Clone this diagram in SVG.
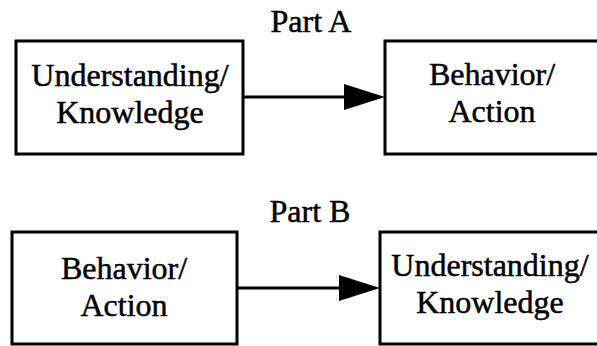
<svg xmlns="http://www.w3.org/2000/svg" width="597" height="346" viewBox="0 0 597 346">
  <style>
    .box { fill: #ffffff; stroke: #000000; stroke-width: 3; }
    .lbl { font-family: "Liberation Serif", "Times New Roman", serif; font-size: 32px; fill: #000000; stroke: #000000; stroke-width: 0.5; text-anchor: middle; }
    .edge { stroke: #000000; stroke-width: 3; fill: none; }
    .head { fill: #000000; stroke: none; }
  </style>
  <rect width="597" height="346" fill="#ffffff"/>

  <!-- section titles -->
  <text class="lbl" x="311" y="32">Part A</text>
  <text class="lbl" x="310" y="222">Part B</text>

  <!-- Part A -->
  <g id="a-understanding">
    <rect class="box" x="16" y="41" width="227" height="113"/>
    <text class="lbl" x="130" y="86">Understanding/</text>
    <text class="lbl" x="130" y="123">Knowledge</text>
  </g>
  <g id="a-behavior">
    <rect class="box" x="385" y="41" width="230" height="113"/>
    <text class="lbl" x="492" y="85">Behavior/</text>
    <text class="lbl" x="492" y="122">Action</text>
  </g>

  <!-- Part B -->
  <g id="b-behavior">
    <rect class="box" x="12" y="232" width="225" height="112"/>
    <text class="lbl" x="124" y="279">Behavior/</text>
    <text class="lbl" x="124" y="316">Action</text>
  </g>
  <g id="b-understanding">
    <rect class="box" x="380" y="232" width="230" height="112"/>
    <text class="lbl" x="490" y="276">Understanding/</text>
    <text class="lbl" x="490" y="313">Knowledge</text>
  </g>

  <!-- connectors -->
  <g id="connectors">
    <line class="edge" x1="243" y1="97" x2="346" y2="97"/>
    <polygon class="head" points="344,84 385,97 344,110"/>
    <line class="edge" x1="237" y1="288" x2="341" y2="288"/>
    <polygon class="head" points="339,275 380,288 339,301"/>
  </g>
</svg>
